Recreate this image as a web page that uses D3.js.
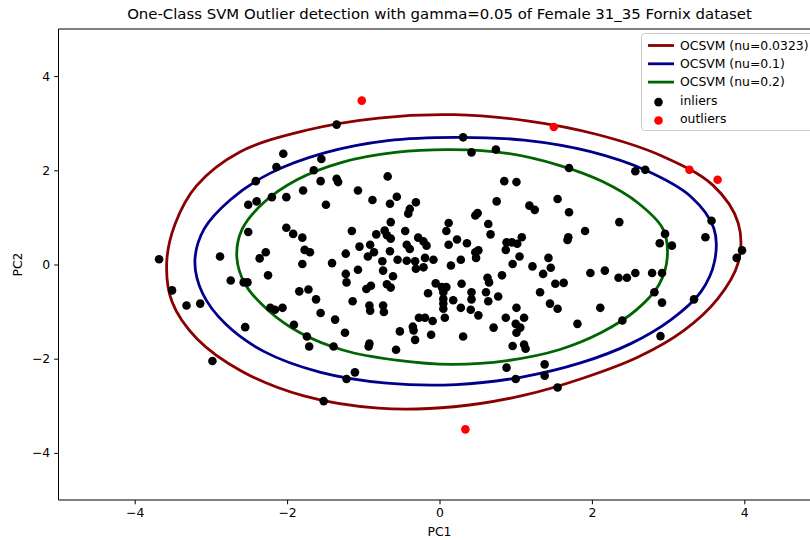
<!DOCTYPE html>
<html>
<head>
<meta charset="utf-8">
<script src="https://cdn.jsdelivr.net/npm/d3@7"></script>
<style>
  body { margin: 0; background: #fff; }
  svg { display: block; }
  text { font-family: "DejaVu Sans", sans-serif; fill: #000; }
</style>
</head>
<body>
<svg id="chart" width="810" height="540"></svg>
<script>
// ---- data ----
const titleText = "One-Class SVM Outlier detection with gamma=0.05 of Female 31_35 Fornix dataset";
const xLabel = "PC1";
const yLabel = "PC2";
const xDomain = [-5, 5];
const yDomain = [-5, 5];
const xTicks = [-4, -2, 0, 2, 4];
const yTicks = [-4, -2, 0, 2, 4];

const contourNames = ["OCSVM (nu=0.0323)", "OCSVM (nu=0.1)", "OCSVM (nu=0.2)"];
const pointNames = ["inliers", "outliers"];

// decision-boundary contour vertices (PC1, PC2), traced around each level set
const contourNu0323 = [
  [3.92, 0.04], [3.65, -0.73], [3.20, -1.41], [2.60, -1.97], [1.89, -2.41], [1.10, -2.78],
  [0.19, -3.02], [-0.80, -3.05], [-1.78, -2.79], [-2.59, -2.27], [-3.18, -1.58], [-3.51, -0.79],
  [-3.58, 0.04], [-3.47, 0.86], [-3.19, 1.67], [-2.62, 2.39], [-1.75, 2.85], [-0.80, 3.11],
  [0.19, 3.18], [1.15, 3.05], [2.07, 2.76], [2.91, 2.31], [3.59, 1.68], [3.92, 0.88]
];
const contourNu01 = [
  [3.61, 0.07], [3.43, -0.58], [3.04, -1.17], [2.51, -1.68], [1.85, -2.09], [1.08, -2.39],
  [0.22, -2.55], [-0.69, -2.52], [-1.56, -2.29], [-2.30, -1.85], [-2.81, -1.26], [-3.11, -0.61],
  [-3.21, 0.07], [-3.09, 0.75], [-2.74, 1.38], [-2.22, 1.94], [-1.51, 2.37], [-0.68, 2.63],
  [0.22, 2.70], [1.11, 2.64], [1.97, 2.40], [2.72, 1.99], [3.30, 1.44], [3.60, 0.77]
];
const contourNu02 = [
  [2.99, 0.16], [2.88, -0.43], [2.58, -0.97], [2.13, -1.44], [1.57, -1.81], [0.89, -2.04],
  [0.16, -2.12], [-0.57, -2.03], [-1.26, -1.82], [-1.83, -1.45], [-2.25, -0.97], [-2.55, -0.42],
  [-2.66, 0.16], [-2.59, 0.75], [-2.31, 1.31], [-1.87, 1.80], [-1.28, 2.17], [-0.58, 2.38],
  [0.16, 2.44], [0.89, 2.36], [1.56, 2.11], [2.14, 1.76], [2.61, 1.30], [2.93, 0.76]
];

const inliers = [
  [-2.05, 2.35], [-2.14, 2.07], [-2.41, 1.77], [-2.51, 1.27], [-2.40, 1.34], [-2.20, 1.43], [-2.01, 1.43],
  [-1.35, 2.97], [-1.55, 2.24], [-1.65, 2.00], [-1.56, 1.77], [-1.35, 1.82], [-1.33, 1.75], [-0.68, 1.87],
  [-1.79, 1.57], [-1.07, 1.57], [-0.88, 1.37], [-0.65, 1.29], [-0.56, 1.44], [-0.31, 1.32], [-0.39, 1.18],
  [-0.41, 1.08], [-1.49, 1.27],
  [0.31, 2.70], [0.42, 2.38], [0.74, 2.44], [1.70, 2.05], [0.85, 1.77], [1.01, 1.75], [0.75, 1.34],
  [1.18, 1.25], [1.25, 1.16], [1.55, 1.39], [1.70, 1.11], [0.47, 1.04], [0.50, 1.09],
  [2.57, 1.98], [2.70, 2.01], [3.57, 0.93],
  [-3.68, 0.11], [-2.51, 0.69], [-2.01, 0.78], [-1.92, 0.65], [-2.28, 0.26], [-2.36, 0.13], [-2.88, 0.17],
  [-2.25, -0.23], [-2.74, -0.34], [-2.57, -0.38], [-2.52, -0.38], [-3.51, -0.55], [-3.32, -0.87],
  [-3.14, -0.83], [-2.22, -0.92], [-2.16, -0.96], [-2.06, -0.92], [-1.84, -0.57], [-1.91, -1.28],
  [-2.55, -1.33], [-2.98, -2.05],
  [-0.64, 0.90], [0.12, 0.88], [0.09, 0.71], [-1.15, 0.71], [-0.83, 0.64], [-0.72, 0.72], [-0.69, 0.62],
  [-0.64, 0.55], [-0.45, 0.71], [-0.28, 0.57], [-0.21, 0.49], [-0.17, 0.40], [-0.43, 0.42], [-0.39, 0.33],
  [0.12, 0.42], [0.23, 0.53], [-1.80, 0.57], [-1.77, 0.31], [-1.70, 0.26], [-1.80, 0.01], [-1.05, 0.38],
  [-0.91, 0.42], [-0.86, 0.26], [-0.94, 0.17], [-1.23, 0.23], [-0.65, 0.28], [-0.75, 0.07], [-0.55, 0.10],
  [-0.43, 0.08], [-0.32, 0.07], [-0.19, 0.14], [-0.08, 0.10], [-0.31, -0.09], [-0.21, -0.06], [0.15, -0.02],
  [-1.41, 0.03], [-1.07, -0.11], [-1.23, -0.20], [-1.22, -0.38], [-0.74, -0.13], [-0.61, -0.25],
  [-0.69, -0.42], [-0.64, -0.49], [-0.96, -0.52], [-0.90, -0.45], [-0.05, -0.40], [0.03, -0.48],
  [0.09, -0.48], [0.05, -0.59], [0.05, -0.73], [0.05, -0.83], [0.05, -0.94], [0.07, -1.13], [0.18, -0.76],
  [-0.15, -0.61], [-1.72, -0.53], [-1.62, -0.74], [-1.56, -1.03], [-1.14, -0.78], [-0.92, -0.87],
  [-0.91, -0.98], [-0.74, -0.87], [-0.73, -1.01], [-1.37, -1.17], [-1.24, -1.45], [-1.74, -1.53],
  [-1.71, -1.74], [-1.39, -1.74], [-0.92, -1.68], [-0.93, -1.74], [-0.57, -1.81], [-0.32, -1.60],
  [-0.35, -1.32], [-0.34, -1.40], [-0.52, -1.42], [-0.27, -1.13], [-0.19, -1.13], [-0.09, -1.20],
  [-0.11, -1.49],
  [0.64, 0.86], [0.67, 0.64], [0.36, 0.45], [0.47, 0.26], [0.51, 0.30], [0.48, 0.14], [0.28, 0.10],
  [0.88, 0.47], [0.95, 0.47], [1.02, 0.44], [1.08, 0.58], [0.87, 0.31], [1.05, 0.17], [0.96, 0.01],
  [1.43, 0.14], [1.22, -0.04], [1.36, -0.20], [1.46, -0.07], [1.69, 0.58], [1.68, 0.52], [1.91, 0.71],
  [2.36, 0.90], [1.98, -0.18], [2.17, -0.13], [2.35, -0.28], [0.29, -0.41], [0.63, -0.28], [0.65, -0.38],
  [0.82, -0.23], [0.42, -0.59], [0.42, -0.74], [0.61, -0.59], [0.64, -0.78], [0.77, -0.68], [1.32, -0.59],
  [1.52, -0.41], [1.63, -0.39], [1.45, -0.83], [1.55, -0.94], [0.28, -0.92], [0.41, -0.96], [0.51, -1.08],
  [1.01, -0.92], [0.87, -1.13], [1.11, -1.13], [1.00, -1.26], [1.06, -1.34], [1.01, -1.45], [0.71, -1.34],
  [2.11, -0.92], [1.81, -1.26], [0.31, -1.53], [0.96, -1.73], [1.11, -1.70], [1.13, -1.79],
  [2.96, 0.65], [2.89, 0.45], [3.05, 0.40], [3.49, 0.58], [3.97, 0.30], [3.90, 0.14], [2.46, -0.28],
  [2.57, -0.18], [2.79, -0.18], [2.92, -0.18], [2.82, -0.59], [2.92, -0.81], [2.40, -1.19], [3.34, -0.74],
  [2.90, -1.52],
  [-1.11, -2.29], [-1.22, -2.43], [-1.52, -2.90],
  [0.88, -2.19], [1.00, -2.43], [1.38, -2.12], [1.38, -2.36], [1.55, -2.61]
];
const outliers = [
  [-1.02, 3.48], [1.50, 2.92], [3.28, 2.01], [3.65, 1.80], [0.34, -3.50]
];

// ---- layout & style ----
const plot = { left: 58.5, right: 820.5, top: 29, bottom: 500 };
const contourColors = ["#8b0000", "#00008b", "#006400"];
const pointColors = ["#000000", "#ff0000"];
const lineWidth = 2.8;
const dotRadius = 4.3;
const tickFont = 12.4;
const titleFont = 14.9;

const svg = d3.select("#chart");

const x = d3.scaleLinear().domain(xDomain).range([plot.left, plot.right]);
const y = d3.scaleLinear().domain(yDomain).range([plot.bottom, plot.top]);

svg.append("defs").append("clipPath").attr("id", "plot-clip")
  .append("rect")
  .attr("x", plot.left).attr("y", plot.top)
  .attr("width", plot.right - plot.left).attr("height", plot.bottom - plot.top);

const body = svg.append("g").attr("clip-path", "url(#plot-clip)");

// decision boundaries
const contourLine = d3.line()
  .x(d => x(d[0])).y(d => y(d[1]))
  .curve(d3.curveCatmullRomClosed.alpha(0.5));

[contourNu0323, contourNu01, contourNu02].forEach((pts, i) => {
  body.append("path")
    .attr("d", contourLine(pts))
    .attr("fill", "none")
    .attr("stroke", contourColors[i])
    .attr("stroke-width", lineWidth);
});

// scatter: inliers then outliers
body.append("g").selectAll("circle").data(inliers).join("circle")
  .attr("cx", d => x(d[0])).attr("cy", d => y(d[1]))
  .attr("r", dotRadius).attr("fill", pointColors[0]);
body.append("g").selectAll("circle").data(outliers).join("circle")
  .attr("cx", d => x(d[0])).attr("cy", d => y(d[1]))
  .attr("r", dotRadius).attr("fill", pointColors[1]);

// axes
const xAxis = svg.append("g")
  .attr("transform", `translate(0,${plot.bottom})`)
  .call(d3.axisBottom(x).tickValues(xTicks).tickSize(4.3).tickPadding(4));
const yAxis = svg.append("g")
  .attr("transform", `translate(${plot.left},0)`)
  .call(d3.axisLeft(y).tickValues(yTicks).tickSize(4.3).tickPadding(4));
[xAxis, yAxis].forEach(a => {
  a.select(".domain").remove();
  a.selectAll(".tick line").attr("stroke", "#000").attr("stroke-width", 1);
  a.selectAll(".tick text").attr("font-size", tickFont)
    .attr("font-family", "DejaVu Sans, sans-serif").attr("fill", "#000");
});

// spines
const spine = svg.append("g").attr("stroke", "#000").attr("stroke-width", 1).attr("fill", "none");
spine.append("line").attr("x1", plot.left).attr("x2", plot.left).attr("y1", plot.top).attr("y2", plot.bottom);
spine.append("line").attr("x1", plot.left).attr("x2", plot.right).attr("y1", plot.bottom).attr("y2", plot.bottom);
spine.append("line").attr("x1", plot.left).attr("x2", plot.right).attr("y1", plot.top).attr("y2", plot.top);
spine.append("line").attr("x1", plot.right).attr("x2", plot.right).attr("y1", plot.top).attr("y2", plot.bottom);

// title and axis labels
svg.append("text").attr("x", (plot.left + plot.right) / 2).attr("y", 19)
  .attr("text-anchor", "middle").attr("font-size", titleFont).text(titleText);
svg.append("text").attr("x", (plot.left + plot.right) / 2).attr("y", 536)
  .attr("text-anchor", "middle").attr("font-size", tickFont).text(xLabel);
svg.append("text").attr("transform", `translate(22,${(plot.top + plot.bottom) / 2}) rotate(-90)`)
  .attr("text-anchor", "middle").attr("font-size", tickFont).text(yLabel);

// legend
const lg = svg.append("g");
lg.append("rect").attr("x", 641.5).attr("y", 33.5).attr("width", 172).attr("height", 97)
  .attr("rx", 3).attr("fill", "#fff").attr("fill-opacity", 0.8)
  .attr("stroke", "#cccccc").attr("stroke-width", 1);
const rowY = [45.5, 63.8, 82.1, 100.6, 119];
contourNames.forEach((name, i) => {
  lg.append("line").attr("x1", 648).attr("x2", 674).attr("y1", rowY[i]).attr("y2", rowY[i])
    .attr("stroke", contourColors[i]).attr("stroke-width", lineWidth);
  lg.append("text").attr("x", 680).attr("y", rowY[i]).attr("dy", "0.35em")
    .attr("font-size", tickFont).text(name);
});
pointNames.forEach((name, i) => {
  const yy = rowY[3 + i];
  lg.append("circle").attr("cx", 658.5).attr("cy", yy + 1.5).attr("r", dotRadius).attr("fill", pointColors[i]);
  lg.append("text").attr("x", 680).attr("y", yy).attr("dy", "0.35em")
    .attr("font-size", tickFont).text(name);
});
</script>
</body>
</html>
